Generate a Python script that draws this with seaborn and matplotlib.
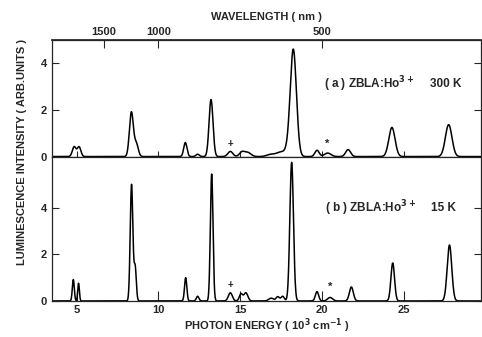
import numpy as np
import pandas as pd
import matplotlib.pyplot as plt
import seaborn as sns

# peak parameters (photon energy in 10^3 cm^-1)
pos_a = [4.85, 5.15, 8.35, 8.65, 11.65, 12.4, 13.22, 14.4, 15.1, 15.45, 16.9, 17.4, 17.8, 18.25, 19.7, 20.35, 21.6, 24.28, 27.75]
height_a = [0.42, 0.42, 1.9, 0.55, 0.6, 0.1, 2.45, 0.22, 0.18, 0.18, 0.1, 0.15, 0.2, 4.6, 0.27, 0.15, 0.3, 1.25, 1.37]
width_a = [0.11, 0.11, 0.12, 0.12, 0.1, 0.1, 0.12, 0.15, 0.15, 0.2, 0.25, 0.2, 0.2, 0.19, 0.13, 0.2, 0.15, 0.19, 0.2]

pos_b = [4.8, 5.12, 8.36, 8.58, 11.67, 12.4, 13.26, 14.4, 15.05, 15.35, 16.9, 17.3, 17.6, 18.15, 19.7, 20.5, 21.8, 24.33, 27.8]
height_b = [0.92, 0.76, 5.0, 1.45, 1.0, 0.2, 5.45, 0.35, 0.3, 0.35, 0.12, 0.18, 0.2, 5.95, 0.4, 0.15, 0.6, 1.63, 2.4]
width_b = [0.06, 0.05, 0.08, 0.07, 0.07, 0.08, 0.08, 0.12, 0.1, 0.12, 0.15, 0.1, 0.1, 0.11, 0.1, 0.15, 0.12, 0.11, 0.14]

energy_ticks = [5, 10, 15, 20, 25]
wavelength_ticks = [1500, 1000, 500]

def spectrum(x, pos, h, w):
    y = np.zeros_like(x)
    for p, a, s in zip(pos, h, w):
        y += a * np.exp(-0.5 * ((x - p) / s) ** 2)
    return y

x = np.linspace(3.5, 29.7, 3000)
df_a = pd.DataFrame({'E': x, 'I': spectrum(x, pos_a, height_a, width_a)})
df_b = pd.DataFrame({'E': x, 'I': spectrum(x, pos_b, height_b, width_b)})

sns.set_theme(style="ticks")
plt.rcParams['font.family'] = ['Liberation Sans', 'DejaVu Sans']
plt.rcParams['font.weight'] = 'bold'

fig = plt.figure(figsize=(4.82, 3.37), dpi=100)
gs = fig.add_gridspec(2, 1, height_ratios=[5, 6.2], hspace=0,
                      left=0.108, right=0.997, top=0.881, bottom=0.107)
ax1 = fig.add_subplot(gs[0])
ax2 = fig.add_subplot(gs[1], sharex=ax1)

for ax, df in [(ax1, df_a), (ax2, df_b)]:
    sns.lineplot(ax=ax, data=df, x='E', y='I', color='black', linewidth=1.1)
    ax.set_xlim(3.5, 29.7)
    ax.set_xlabel('')
    ax.set_ylabel('')
    ax.set_yticks([0, 2, 4])
    ax.tick_params(axis='y', direction='in', length=5, right=True, labelsize=8, width=0.8)
    for s in ax.spines.values():
        s.set_linewidth(0.9)

ax1.set_ylim(0, 5.0)
ax2.set_ylim(0, 6.2)
ax1.set_xticks(energy_ticks)
ax1.tick_params(axis='x', direction='inout', length=8, labelbottom=False, width=0.8)
ax2.tick_params(axis='x', direction='in', length=7, labelsize=8, width=0.8, pad=3)
ax2.set_xlabel('PHOTON ENERGY ( 10$^3$ cm$^{-1}$ )', fontsize=8, fontweight='bold', labelpad=1)

sec = ax1.secondary_xaxis('top', functions=(lambda e: 1e4 / np.clip(e, 0.1, None),
                                            lambda l: 1e4 / np.clip(l, 0.1, None)))
sec.set_xticks(wavelength_ticks)
sec.tick_params(direction='in', length=6, labelsize=8, width=0.8, pad=2)
sec.set_xlabel('WAVELENGTH ( nm )', fontsize=8, fontweight='bold', labelpad=5)

ax1.text(20.1, 3.1, '( a ) ZBLA:Ho$^{3+}$', fontsize=8.5, fontweight='bold', va='center')
ax1.text(26.6, 3.1, '300 K', fontsize=8.5, fontweight='bold', va='center')
ax2.text(20.2, 4.0, '( b ) ZBLA:Ho$^{3+}$', fontsize=8.5, fontweight='bold', va='center')
ax2.text(26.7, 4.0, '15 K', fontsize=8.5, fontweight='bold', va='center')

ax1.text(14.4, 0.55, '+', fontsize=7, ha='center', va='center')
ax1.text(20.3, 0.55, '*', fontsize=8, ha='center', va='center')
ax2.text(14.4, 0.7, '+', fontsize=7, ha='center', va='center')
ax2.text(20.5, 0.6, '*', fontsize=8, ha='center', va='center')

fig.text(0.046, 1 - 152 / 337, 'LUMINESCENCE INTENSITY ( ARB.UNITS )', rotation=90,
         fontsize=8, fontweight='bold', ha='center', va='center')

fig.savefig('out.png', dpi=100)
